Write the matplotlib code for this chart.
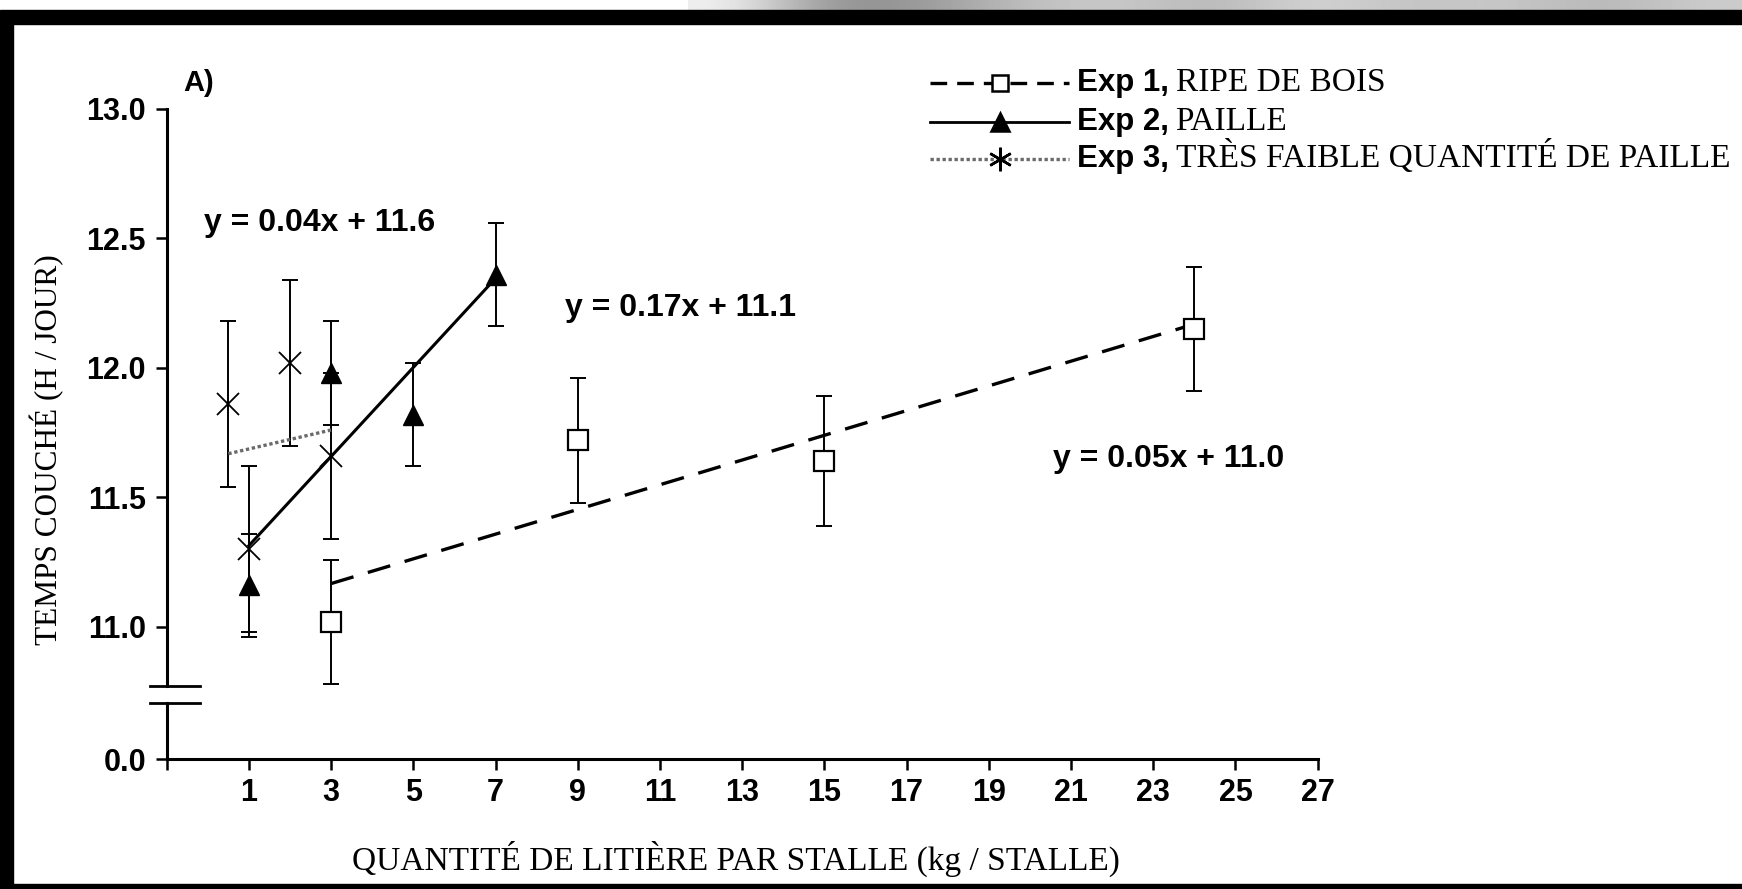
import numpy as np
import matplotlib
matplotlib.use("Agg")
import matplotlib.pyplot as plt
from matplotlib.lines import Line2D
from matplotlib.patches import Rectangle

# Exp 1 : ripe de bois
exp1_x = [3, 9, 15, 24]
exp1_y = [11.02, 11.72, 11.64, 12.15]
exp1_err = [0.24, 0.24, 0.25, 0.24]

# Exp 2 : paille
exp2_x = [1, 3, 5, 7]
exp2_y = [11.16, 11.98, 11.82, 12.36]
exp2_err = [0.20, 0.20, 0.20, 0.20]

# Exp 3 : tres faible quantite de paille
exp3_x = [0.5, 1, 2, 3]
exp3_y = [11.86, 11.30, 12.02, 11.66]
exp3_err = [0.32, 0.32, 0.32, 0.32]

equations = ["y = 0.04x + 11.6", "y = 0.17x + 11.1", "y = 0.05x + 11.0"]
eq_x = [-0.1, 8.7, 20.55]
eq_y = [12.56, 12.23, 11.65]

legend_bold = ["Exp 1,", "Exp 2,", "Exp 3,"]
legend_serif = ["RIPE DE BOIS", "PAILLE", "TRÈS FAIBLE QUANTITÉ DE PAILLE"]

y_ticks = [11.0, 11.5, 12.0, 12.5, 13.0]
x_ticks = list(range(1, 28, 2))

# position used for the "0.0" below the axis break
Y_ZERO = 10.49
BREAK_LOW, BREAK_HIGH = 10.706, 10.771

SANS = "Liberation Sans"
SERIF = "Liberation Serif"

fig = plt.figure(figsize=(17.42, 8.89), dpi=100)
ax = fig.add_axes([0.0957, 0.1462, 0.6607, 0.7313])

# regression lines from the data
for xs, ys, style, lw, col in [
    (exp1_x, exp1_y, (0, (7, 4.5)), 2.4, "black"),
    (exp2_x, exp2_y, "-", 2.2, "black"),
    (exp3_x, exp3_y, (0, (1, 0.8)), 2.4, "#6a6a6a"),
]:
    slope, inter = np.polyfit(xs, ys, 1)
    xx = np.array([min(xs), max(xs)])
    ax.plot(xx, slope * xx + inter, linestyle=style, color=col, lw=lw, zorder=3)

err_kw = dict(fmt="none", ecolor="black", elinewidth=1.4, capsize=5.5, capthick=1.4, zorder=2)
ax.errorbar(exp1_x, exp1_y, yerr=exp1_err, **err_kw)
ax.errorbar(exp2_x, exp2_y, yerr=exp2_err, **err_kw)
ax.errorbar(exp3_x, exp3_y, yerr=exp3_err, **err_kw)

ax.plot(exp1_x, exp1_y, ls="none", marker="s", ms=15, mfc="white", mec="black", mew=1.6, zorder=4)
ax.plot(exp2_x, exp2_y, ls="none", marker="^", ms=15, mfc="black", mec="black", zorder=4)
ax.plot(exp3_x, exp3_y, ls="none", marker="x", ms=16, mec="black", mew=1.3, zorder=4)

for txt, x, y in zip(equations, eq_x, eq_y):
    ax.text(x, y, txt, fontfamily=SANS, fontweight="bold", fontsize=23, va="center", ha="left")
ax.text(-0.6, 13.1, "A)", fontfamily=SANS, fontweight="bold", fontsize=21, va="center", ha="left")

# axes
ax.set_xlim(-1, 27)
ax.set_ylim(Y_ZERO, 13.0)
for s in ["top", "right", "left"]:
    ax.spines[s].set_visible(False)
ax.spines["bottom"].set_linewidth(2.2)

ax.set_xticks([-1] + x_ticks)
ax.set_xticklabels([""] + [str(v) for v in x_ticks])
ax.set_yticks([Y_ZERO] + y_ticks)
ax.set_yticklabels(["0.0"] + [f"{v:.1f}" for v in y_ticks])
ax.tick_params(axis="both", direction="out", length=8, width=1.8, labelsize=22, color="black")
ax.tick_params(axis="y", pad=7)
ax.tick_params(axis="x", pad=6)
for lab in ax.get_xticklabels() + ax.get_yticklabels():
    lab.set_fontfamily(SANS)
    lab.set_fontweight("bold")

# broken y axis drawn by hand
ax.plot([-1, -1], [Y_ZERO, BREAK_LOW], color="black", lw=2.2, clip_on=False, zorder=5)
ax.plot([-1, -1], [BREAK_HIGH, 13.0], color="black", lw=2.2, clip_on=False, zorder=5)
for yb in (BREAK_LOW, BREAK_HIGH):
    ax.plot([-1.4, -0.2], [yb, yb], color="black", lw=2.0, clip_on=False, zorder=5)

fig.text(0.027, 0.494, "TEMPS COUCHÉ (H / JOUR)", rotation=90, fontfamily=SERIF,
         fontsize=22.5, ha="center", va="center")
fig.text(0.4222, 0.034, "QUANTITÉ DE LITIÈRE PAR STALLE (kg / STALLE)", fontfamily=SERIF,
         fontsize=24, ha="center", va="center")

# legend built by hand (two fonts in each label)
row_y = [0.9066, 0.8628, 0.8211]
hx = [0.534, 0.574, 0.6137]
handles = [
    dict(ls=(0, (5, 3)), marker="s", mfc="white", color="black", ms=12, lw=2.4),
    dict(ls="-", marker="^", mfc="black", color="black", ms=13, lw=2.0),
    dict(ls=(0, (1, 0.8)), marker=(6, 2, 0), mfc="black", color="#6a6a6a", ms=17, lw=2.4),
]
for y, h, tb, ts in zip(row_y, handles, legend_bold, legend_serif):
    line = Line2D(hx, [y] * 3, transform=fig.transFigure, linestyle=h["ls"], color=h["color"],
                  lw=h["lw"], marker=h["marker"], markevery=[1], ms=h["ms"],
                  mfc=h["mfc"], mec="black", mew=1.8)
    fig.add_artist(line)
    t1 = fig.text(0.618, y, tb, fontfamily=SANS, fontweight="bold", fontsize=22.5, va="center")
    ax.annotate(ts, xy=(1, 0), xycoords=t1, xytext=(5, 0), textcoords="offset points",
                fontfamily=SERIF, fontsize=24, va="bottom", ha="left", annotation_clip=False)

# photo frame around the scan
fig.add_artist(Rectangle((0, 0), 0.0075, 1 - 14 / 889, transform=fig.transFigure,
                         color="black", zorder=10))
fig.add_artist(Rectangle((0, 1 - 24 / 889), 1, 14 / 889, transform=fig.transFigure,
                         color="black", zorder=10))
fig.add_artist(Rectangle((0, 0), 1, 5 / 889, transform=fig.transFigure,
                         color="black", zorder=10))
strip = fig.add_axes([0.395, 1 - 10 / 889, 0.605, 10 / 889])
grad = np.array([[0.95, 0.55, 0.6, 0.75, 0.8, 0.7, 0.85, 0.75, 0.8, 0.7, 0.8]])
strip.imshow(grad, cmap="gray", vmin=0, vmax=1, aspect="auto", interpolation="bicubic")
strip.axis("off")

fig.savefig("out.png", dpi=100)
